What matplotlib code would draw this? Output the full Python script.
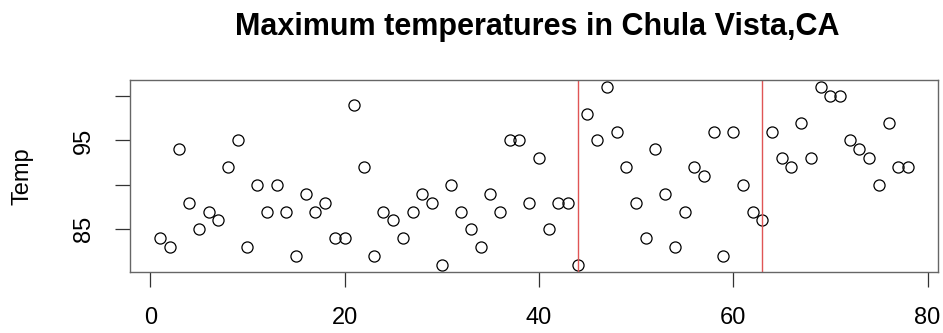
import matplotlib
matplotlib.use("Agg")
import matplotlib.pyplot as plt

# daily maximum temps (index 1..78)
temps = [84, 83, 94, 88, 85, 87, 86, 92, 95, 83,
         90, 87, 90, 87, 82, 89, 87, 88, 84, 84,
         99, 92, 82, 87, 86, 84, 87, 89, 88, 81,
         90, 87, 85, 83, 89, 87, 95, 95, 88, 93,
         85, 88, 88, 81, 98, 95, 101, 96, 92, 88,
         84, 94, 89, 83, 87, 92, 91, 96, 82, 96,
         90, 87, 86, 96, 93, 92, 97, 93, 101, 100,
         100, 95, 94, 93, 90, 97, 92, 92]
days = list(range(1, len(temps) + 1))
breaks = [44, 63]
y_ticks = [85, 90, 95, 100]
y_labels = ["85", "", "95", ""]
x_ticks = [0, 20, 40, 60, 80]

plt.rcParams['font.family'] = ['Liberation Sans', 'DejaVu Sans']

fig = plt.figure(figsize=(9.43, 3.33), dpi=100)
ax = fig.add_axes([130 / 943, 61 / 333, 808 / 943, 192 / 333])

ax.plot(days, temps, 'o', mfc='none', mec='black', ms=8, mew=0.9)
for b in breaks:
    ax.axvline(b, color='#e05555', lw=1.0)

# R-style 4% padding around the data range
pad_x = 0.04 * (max(days) - min(days))
pad_y = 0.04 * (max(temps) - min(temps))
ax.set_xlim(min(days) - pad_x, max(days) + pad_x)
ax.set_ylim(min(temps) - pad_y, max(temps) + pad_y)

ax.set_xticks(x_ticks)
ax.set_yticks(y_ticks)
ax.set_yticklabels(y_labels, rotation=90, va='center')
ax.tick_params(axis='both', length=11, width=0.9, color='#333333',
               labelsize=17, pad=14)
for s in ax.spines.values():
    s.set_color('#666666')
    s.set_linewidth(1.0)

ax.set_ylabel("Temp", fontsize=17)
ax.yaxis.set_label_coords(-0.119, 0.5)
fig.text(0.57, 0.918, "Maximum temperatures in Chula Vista,CA",
         ha='center', va='center', fontsize=22, fontweight='bold')

fig.savefig("out.png", dpi=100)
